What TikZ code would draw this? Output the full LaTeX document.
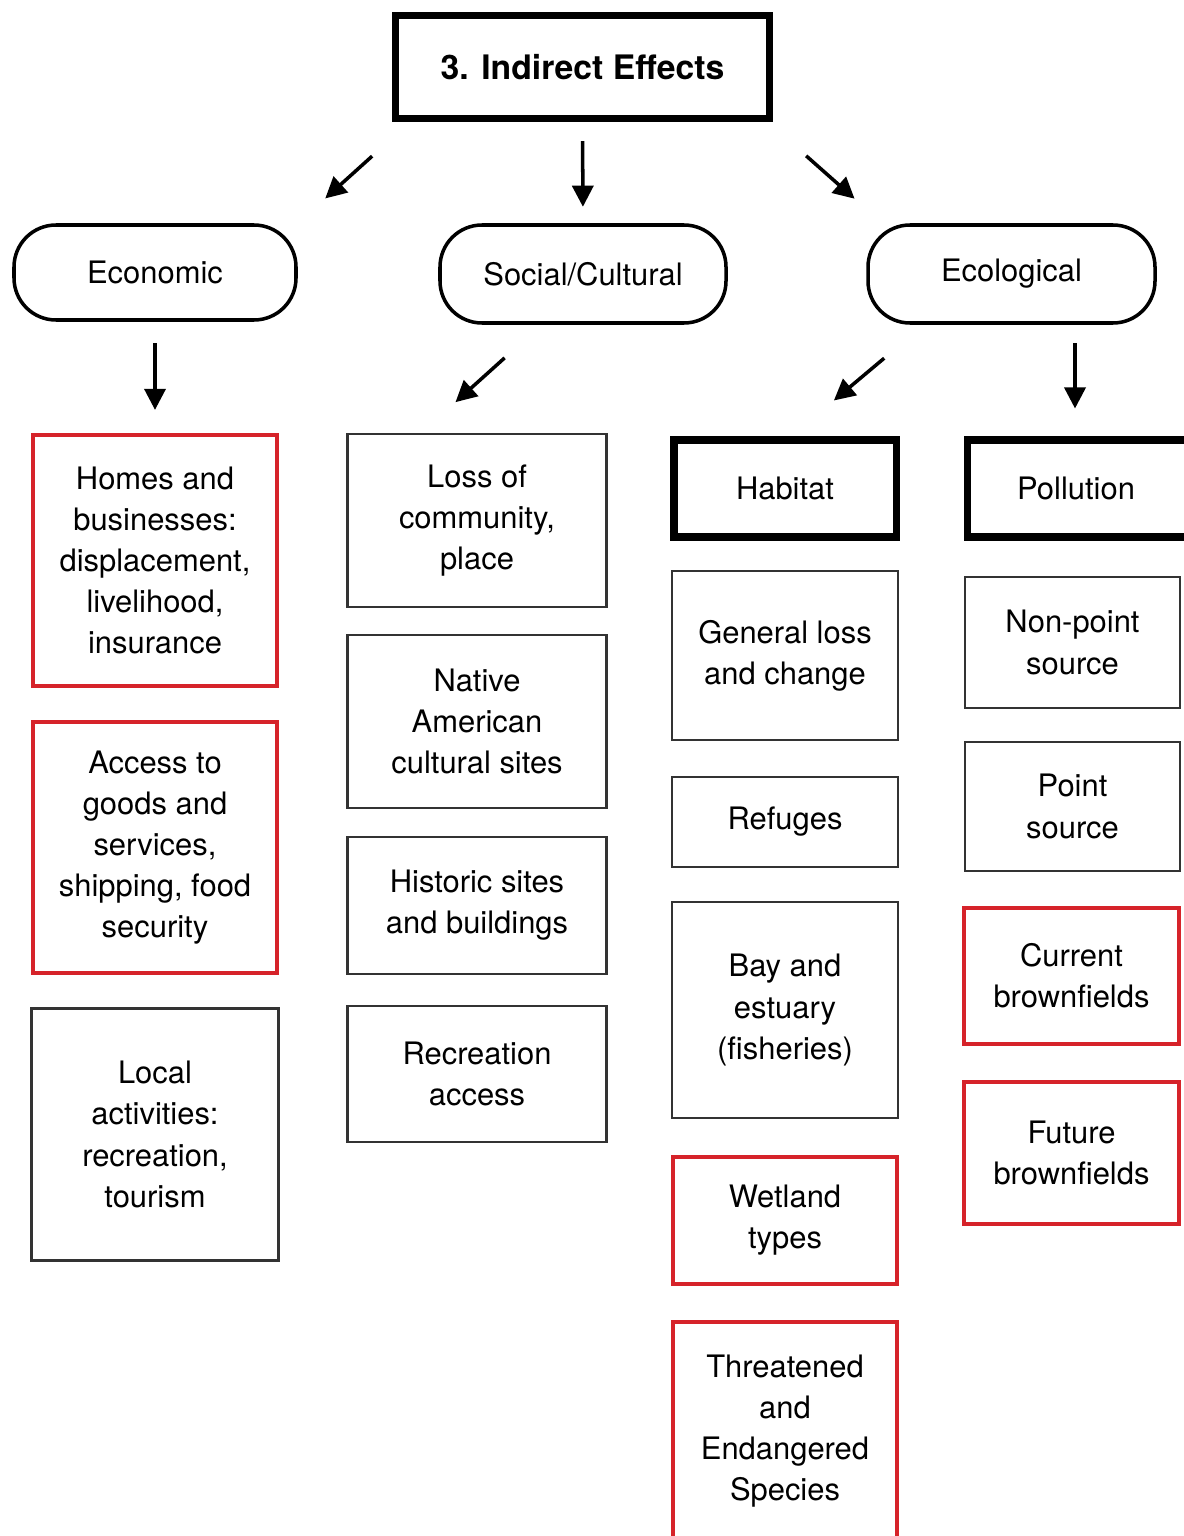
\documentclass[tikz,border=0pt]{standalone}
\usepackage{fontspec}
\setmainfont{TeX Gyre Heros}
\usepackage{xcolor}
\usetikzlibrary{arrows.meta,calc}
\definecolor{boxred}{RGB}{214,35,42}

\begin{document}
\begin{tikzpicture}[
  every node/.style={font=\fontsize{8.8}{11.7}\selectfont, align=center, inner sep=0pt},
  headbox/.style={rectangle, draw=black, line width=2pt, font=\fontsize{9.6}{11.7}\selectfont\bfseries},
  catbox/.style={rectangle, rounded corners=0.42cm, draw=black, line width=1pt},
  subbox/.style={rectangle, draw=black, line width=2pt},
  itembox/.style={rectangle, draw=black!80, line width=0.6pt},
  redbox/.style={rectangle, draw=boxred, line width=1.2pt},
  arrow/.style={-{Triangle[length=6pt, width=6pt]}, line width=1pt}
]

% Page
\path[use as bounding box, fill=white] (0,0) rectangle (11.83,-15.36);

% Title
\node[headbox, minimum width=3.74cm, minimum height=1.03cm] (title) at (5.825,-0.67) {3. Indirect Effects};

% Categories
\node[catbox, minimum width=2.82cm, minimum height=0.95cm] (econ) at (1.55,-2.725) {Economic};
\node[catbox, minimum width=2.86cm, minimum height=0.98cm] (social) at (5.83,-2.74) {Social/Cultural};
\node[catbox, minimum width=2.87cm, minimum height=0.98cm] (eco) at (10.115,-2.74) {Ecological};

% Economic column
\node[redbox, minimum width=2.44cm, minimum height=2.51cm] (homes) at (1.55,-5.605)
  {Homes and\\businesses:\\displacement,\\livelihood,\\insurance};
\node[redbox, minimum width=2.44cm, minimum height=2.51cm] (access) at (1.55,-8.475)
  {Access to\\goods and\\services,\\shipping, food\\security};
\node[itembox, minimum width=2.47cm, minimum height=2.52cm] (local) at (1.55,-11.345)
  {Local\\activities:\\recreation,\\tourism};

% Social/Cultural column
\node[itembox, minimum width=2.59cm, minimum height=1.73cm] (loss) at (4.77,-5.205)
  {Loss of\\community,\\place};
\node[itembox, minimum width=2.59cm, minimum height=1.73cm] (native) at (4.77,-7.215)
  {Native\\American\\cultural sites};
\node[itembox, minimum width=2.59cm, minimum height=1.37cm] (historic) at (4.77,-9.055)
  {Historic sites\\and buildings};
\node[itembox, minimum width=2.59cm, minimum height=1.36cm] (recaccess) at (4.77,-10.74)
  {Recreation\\access};

% Habitat column
\node[subbox, minimum width=2.22cm, minimum height=0.97cm] (habitat) at (7.85,-4.885) {Habitat};
\node[itembox, minimum width=2.26cm, minimum height=1.69cm] (general) at (7.85,-6.555)
  {General loss\\and change};
\node[itembox, minimum width=2.26cm, minimum height=0.90cm] (refuges) at (7.85,-8.22) {Refuges};
\node[itembox, minimum width=2.26cm, minimum height=2.16cm] (bay) at (7.85,-10.10)
  {Bay and\\estuary\\(fisheries)};
\node[redbox, minimum width=2.24cm, minimum height=1.27cm] (wetland) at (7.85,-12.205)
  {Wetland\\types};
\node[redbox, minimum width=2.24cm, minimum height=2.18cm] (species) at (7.85,-14.31)
  {Threatened\\and\\Endangered\\Species};

% Pollution column
\node[subbox, minimum width=2.26cm, minimum height=0.97cm] (pollution) at (10.80,-4.885) {\hspace*{-0.08cm}Pollution};
\node[itembox, minimum width=2.15cm, minimum height=1.31cm] (nonpoint) at (10.725,-6.425)
  {Non-point\\source};
\node[itembox, minimum width=2.15cm, minimum height=1.29cm] (point) at (10.725,-8.065)
  {Point\\source};
\node[redbox, minimum width=2.15cm, minimum height=1.36cm] (current) at (10.715,-9.76)
  {Current\\brownfields};
\node[redbox, minimum width=2.15cm, minimum height=1.42cm] (future) at (10.715,-11.53)
  {Future\\brownfields};

% Title to categories
\draw[arrow, shorten <=5.1mm, shorten >=3.7mm] ($(title.south west)+(0.18,0)$) -- (econ.north east);
\draw[arrow, shorten <=1.9mm, shorten >=1.65mm] (title.south) -- (social.north);
\draw[arrow, shorten <=5.1mm, shorten >=3.7mm] ($(title.south east)+(-0.05,0)$) -- ($(eco.north west)+(0.16,0)$);

% Categories to columns
\draw[arrow, shorten <=2.15mm, shorten >=2.3mm] (econ.south) -- (homes.north);
\draw[arrow, shorten <=4.95mm, shorten >=4.6mm] ($(social.south)+(-0.416,0)$) -- ($(loss.north)+(-0.557,0)$);
\draw[arrow, shorten <=5.2mm, shorten >=5.6mm] ($(eco.south)+(-0.875,0)$) -- ($(habitat.north)+(0.06,0)$);
\draw[arrow, shorten <=1.85mm, shorten >=2.8mm] ($(pollution.north |- eco.south)+(-0.05,0)$) -- ($(pollution.north)+(-0.05,0)$);

\end{tikzpicture}
\end{document}
